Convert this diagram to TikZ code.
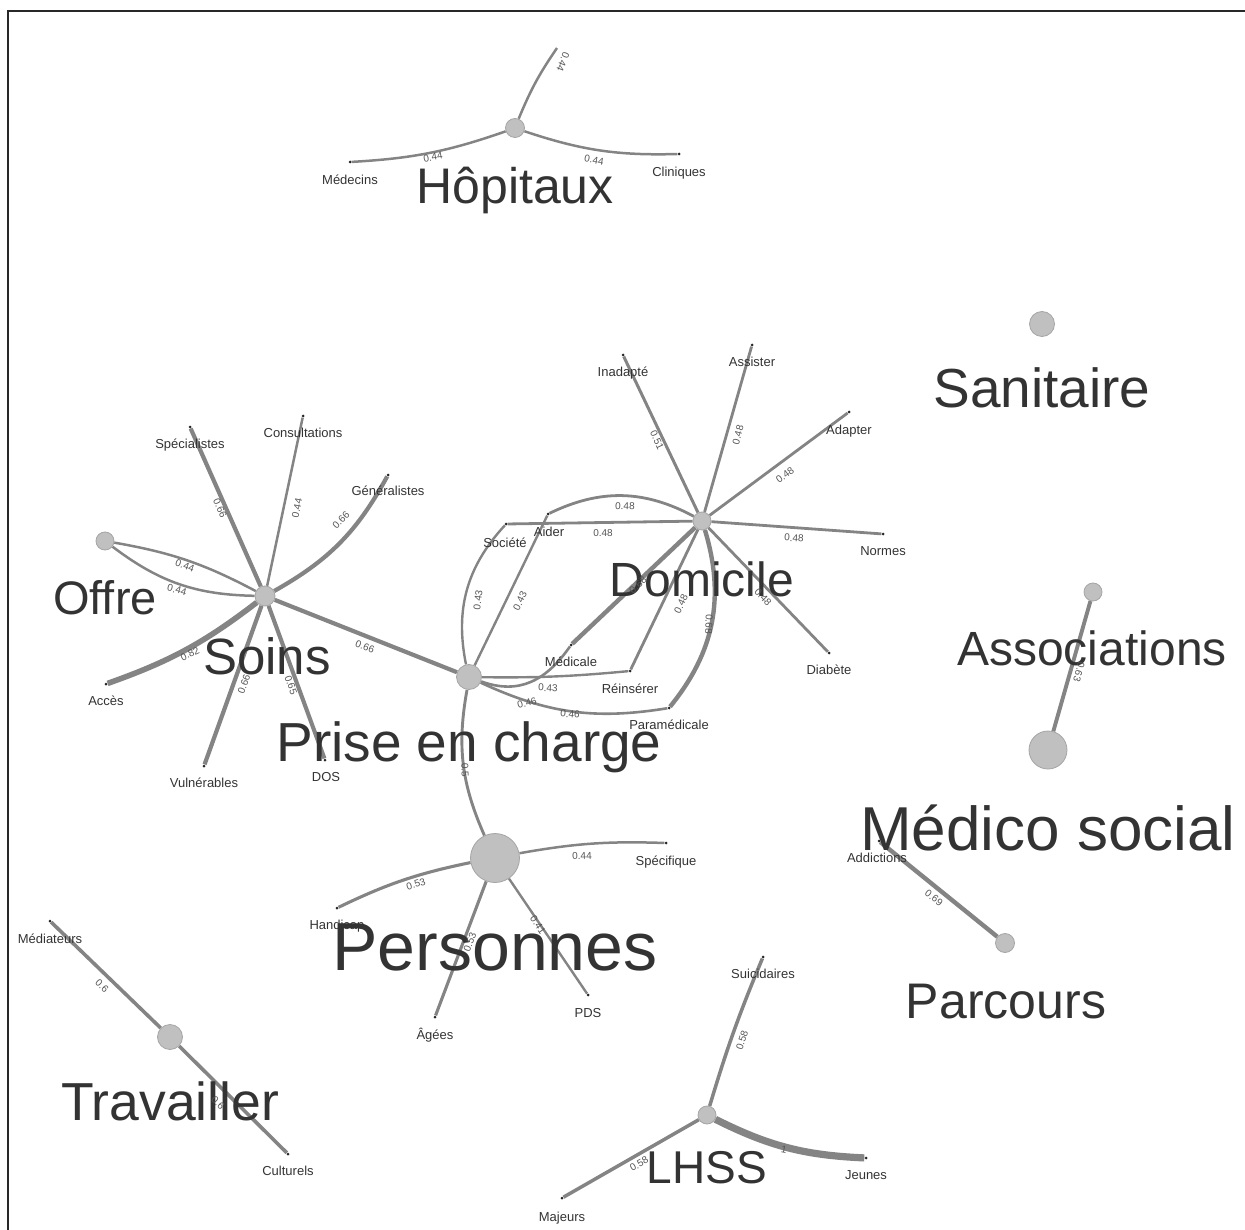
\documentclass[tikz,border=0pt]{standalone}
\usepackage{fontspec}
\setmainfont{Liberation Sans}
\usetikzlibrary{backgrounds}
\definecolor{edgec}{RGB}{132,132,132}
\definecolor{nfill}{RGB}{192,192,192}
\definecolor{ndraw}{RGB}{165,165,165}
\definecolor{txt}{RGB}{51,51,51}
\definecolor{labc}{RGB}{85,85,85}
\definecolor{framec}{RGB}{40,40,40}
\begin{document}
\begin{tikzpicture}[x=1pt,y=1pt,
 hub/.style={circle, fill=nfill, draw=ndraw, line width=0.8pt, inner sep=0pt, minimum size=#1},
 leaf/.style={circle, fill=black!85, inner sep=0pt, minimum size=3pt},
 big/.style={font=\fontsize{#1}{#1}\selectfont, text=txt, anchor=base, inner sep=0pt},
 small/.style={font=\fontsize{13}{13}\selectfont, text=txt, anchor=base, inner sep=0pt},
 elab/.style={font=\fontsize{10}{10}\selectfont, text=labc, inner sep=0pt},
 lnk/.style={draw=edgec, line width=#1},
]
\useasboundingbox (0,0) rectangle (1245,-1230);
\coordinate (fa) at (8,-1230);
\coordinate (fb) at (8,-11);
\coordinate (fc) at (1245,-11);
\draw[framec, line width=1.4pt] (fa) -- (fb) -- (fc);

% ---------- hubs ----------
\node[hub=19] (hop) at (515,-128) {};
\node[hub=25] (san) at (1042,-324) {};
\node[hub=18] (asso) at (1093,-592) {};
\node[hub=38] (meds) at (1048,-750) {};
\node[hub=19] (parc) at (1005,-943) {};
\node[hub=20] (soins) at (265,-596) {};
\node[hub=18] (offre) at (105,-541) {};
\node[hub=25] (pec) at (469,-677) {};
\node[hub=49] (pers) at (495,-858) {};
\node[hub=18] (dom) at (702,-521) {};
\node[hub=25] (trav) at (170,-1037) {};
\node[hub=18] (lhss) at (707,-1115) {};

% ---------- leaves ----------
\node[leaf] (medecins) at (350,-162) {};
\node[leaf] (cliniques) at (679,-154) {};
\coordinate (hoptop) at (557,-48);
\node[leaf] (addictions) at (879,-841) {};
\node[leaf] (specialistes) at (190,-427) {};
\node[leaf] (consultations) at (303,-416) {};
\node[leaf] (generalistes) at (388,-475) {};
\node[leaf] (acces) at (106,-684) {};
\node[leaf] (vulnerables) at (204,-766) {};
\node[leaf] (dos) at (325,-760) {};
\node[leaf] (inadapte) at (623,-355) {};
\node[leaf] (assister) at (752,-345) {};
\node[leaf] (adapter) at (849,-412) {};
\node[leaf] (normes) at (883,-534) {};
\node[leaf] (diabete) at (829,-653) {};
\node[leaf] (aider) at (548,-514) {};
\node[leaf] (societe) at (506,-524) {};
\node[leaf] (medicale) at (571,-645) {};
\node[leaf] (reinserer) at (630,-671) {};
\node[leaf] (paramedicale) at (669,-708) {};
\node[leaf] (specifique) at (666,-843) {};
\node[leaf] (handicap) at (337,-908) {};
\node[leaf] (agees) at (435,-1017) {};
\node[leaf] (pds) at (588,-995) {};
\node[leaf] (mediateurs) at (50,-921) {};
\node[leaf] (culturels) at (288,-1154) {};
\node[leaf] (suicidaires) at (763,-957) {};
\node[leaf] (jeunes) at (866,-1158) {};
\node[leaf] (majeurs) at (562,-1198) {};

% ---------- edges ----------
\begin{pgfonlayer}{background}
\draw[lnk=2.5] (hop) to[bend left=8] (medecins);
\draw[lnk=2.5] (hop) to[bend right=10] (cliniques);
\draw[lnk=2.5] (hop) to[bend left=6] (hoptop);
\draw[lnk=3.9] (asso) -- (meds);
\draw[lnk=4.4] (addictions) -- (parc);

\draw[lnk=2.5] (offre) to[bend left=9] (soins);
\draw[lnk=2.5] (offre) to[bend right=18] (soins);
\draw[lnk=4.2] (soins) -- (specialistes);
\draw[lnk=2.5] (soins) -- (consultations);
\draw[lnk=4.2] (soins) to[bend right=16] (generalistes);
\draw[lnk=5.6] (soins) to[bend left=9] (acces);
\draw[lnk=4.2] (soins) -- (vulnerables);
\draw[lnk=4.1] (soins) -- (dos);
\draw[lnk=4.2] (soins) -- (pec);

\draw[lnk=2.4] (pec) to[bend left=27] (societe);
\draw[lnk=2.4] (pec) -- (aider);
\draw[lnk=2.4] (pec) to[bend right=3] (reinserer);
\draw[lnk=2.6] (pec) to[out=-20, in=-125, looseness=1.1] (medicale);
\draw[lnk=2.6] (pec) to[bend right=17] (paramedicale);
\draw[lnk=2.9] (pec) to[bend right=17] (pers);

\draw[lnk=3.0] (dom) -- (inadapte);
\draw[lnk=2.8] (dom) -- (assister);
\draw[lnk=2.8] (dom) -- (adapter);
\draw[lnk=2.8] (dom) -- (normes);
\draw[lnk=2.8] (dom) -- (diabete);
\draw[lnk=2.8] (dom) to[bend right=27] (aider);
\draw[lnk=2.8] (dom) -- (societe);
\draw[lnk=4.4] (dom) -- (medicale);
\draw[lnk=2.8] (dom) -- (reinserer);
\draw[lnk=4.4] (dom) to[bend left=28] (paramedicale);

\draw[lnk=2.5] (pers) to[bend left=6] (specifique);
\draw[lnk=3.1] (pers) to[bend right=7] (handicap);
\draw[lnk=3.1] (pers) -- (agees);
\draw[lnk=2.4] (pers) -- (pds);

\draw[lnk=3.6] (mediateurs) -- (trav);
\draw[lnk=3.6] (trav) -- (culturels);

\draw[lnk=3.5] (lhss) to[bend left=3] (suicidaires);
\draw[lnk=7.2] (lhss) to[bend right=12] (jeunes);
\draw[lnk=3.5] (lhss) -- (majeurs);
\end{pgfonlayer}

% ---------- big labels ----------
\node[big=50] (tHop) at (515,-204) {Hôpitaux};
\node[big=55] (tSan) at (1042,-408) {Sanitaire};
\node[big=48] (tAsso) at (1092,-665) {Associations};
\node[big=62] (tMeds) at (1048,-850) {Médico social};
\node[big=50] (tParc) at (1006,-1018) {Parcours};
\node[big=48] (tDom) at (702,-596) {Domicile};
\node[big=47] (tOffre) at (105,-614) {Offre};
\node[big=51] (tSoins) at (267,-674) {Soins};
\node[big=55] (tPec) at (469,-761) {Prise en charge};
\node[big=68] (tPers) at (495,-970) {Personnes};
\node[big=53.5] (tTrav) at (170,-1120) {Travailler};
\node[big=46] (tLhss) at (707,-1183) {LHSS};

% ---------- small labels ----------
\node[small] (sMed) at (350,-185) {Médecins};
\node[small] (sCli) at (679,-177) {Cliniques};
\node[small] (sAdd) at (877,-862) {Addictions};
\node[small] (sSpe) at (190,-448) {Spécialistes};
\node[small] (sCon) at (303,-438) {Consultations};
\node[small] (sGen) at (388,-495) {Généralistes};
\node[small] (sAcc) at (106,-705) {Accès};
\node[small] (sVul) at (204,-787) {Vulnérables};
\node[small] (sDos) at (326,-781) {DOS};
\node[small] (sIna) at (623,-377) {Inadapté};
\node[small] (sAss) at (752,-367) {Assister};
\node[small] (sAda) at (849,-435) {Adapter};
\node[small] (sNor) at (883,-555) {Normes};
\node[small] (sDia) at (829,-674) {Diabète};
\node[small] (sAid) at (549,-536) {Aider};
\node[small] (sSoc) at (505,-547) {Société};
\node[small] (sMdc) at (571,-666) {Médicale};
\node[small] (sRei) at (630,-693) {Réinsérer};
\node[small] (sPar) at (669,-729) {Paramédicale};
\node[small] (sSpf) at (666,-865) {Spécifique};
\node[small] (sHan) at (337,-929) {Handicap};
\node[small] (sAge) at (435,-1039) {Âgées};
\node[small] (sPds) at (588,-1017) {PDS};
\node[small] (sMdt) at (50,-943) {Médiateurs};
\node[small] (sCul) at (288,-1175) {Culturels};
\node[small] (sSui) at (763,-978) {Suicidaires};
\node[small] (sJeu) at (866,-1179) {Jeunes};
\node[small] (sMaj) at (562,-1221) {Majeurs};

% ---------- edge labels ----------
\node[elab, rotate=10] (e1) at (433,-157) {0.44};
\node[elab, rotate=-10] (e2) at (594,-160) {0.44};
\node[elab, rotate=-112] (e3) at (563,-62) {0.44};
\node[elab, rotate=-106] (e4) at (1079,-672) {0.63};
\node[elab, rotate=-38] (e5) at (934,-898) {0.69};

\node[elab, rotate=-66] (e6) at (220,-508) {0.66};
\node[elab, rotate=78] (e7) at (297,-508) {0.44};
\node[elab, rotate=45] (e8) at (341,-520) {0.66};
\node[elab, rotate=-20] (e9) at (185,-566) {0.44};
\node[elab, rotate=-15] (e10) at (177,-590) {0.44};
\node[elab, rotate=25] (e11) at (190,-654) {0.82};
\node[elab, rotate=70] (e12) at (244,-684) {0.66};
\node[elab, rotate=-70] (e13) at (291,-685) {0.65};
\node[elab, rotate=-21] (e14) at (365,-647) {0.66};

\node[elab, rotate=-65] (e15) at (657,-440) {0.51};
\node[elab, rotate=75] (e16) at (738,-435) {0.48};
\node[elab, rotate=36] (e17) at (785,-475) {0.48};
\node[elab, rotate=-4] (e18) at (794,-538) {0.48};
\node[elab, rotate=-47] (e19) at (763,-597) {0.48};
\node[elab, rotate=-2] (e20) at (625,-506) {0.48};
\node[elab] (e21) at (603,-533) {0.48};
\node[elab, rotate=43] (e22) at (638,-585) {0.68};
\node[elab, rotate=64] (e23) at (681,-604) {0.48};
\node[elab, rotate=-92] (e24) at (709,-624) {0.68};
\node[elab, rotate=82] (e25) at (478,-600) {0.43};
\node[elab, rotate=64] (e26) at (520,-601) {0.43};
\node[elab, rotate=-3] (e27) at (548,-688) {0.43};
\node[elab, rotate=15] (e28) at (527,-703) {0.46};
\node[elab, rotate=-5] (e29) at (570,-714) {0.46};
\node[elab, rotate=-88] (e30) at (465,-770) {0.5};

\node[elab, rotate=2] (e31) at (582,-856) {0.44};
\node[elab, rotate=17] (e32) at (416,-884) {0.53};
\node[elab, rotate=69] (e33) at (470,-942) {0.53};
\node[elab, rotate=-56] (e34) at (538,-925) {0.41};

\node[elab, rotate=72] (e35) at (742,-1040) {0.58};
\node[elab, rotate=-10] (e36) at (784,-1150) {1};
\node[elab, rotate=30] (e37) at (639,-1164) {0.58};

\node[elab, rotate=-44] (e38) at (102,-986) {0.6};
\node[elab, rotate=-44] (e39) at (218,-1103) {0.6};
\end{tikzpicture}
\end{document}
